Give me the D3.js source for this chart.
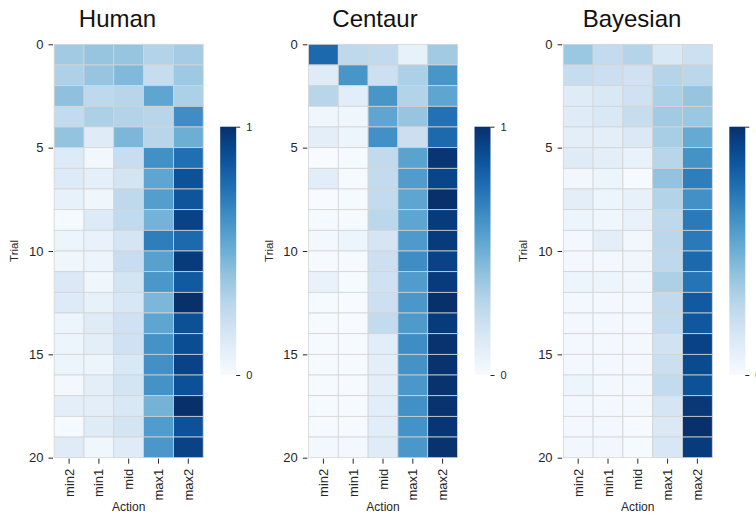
<!DOCTYPE html>
<html>
<head>
<meta charset="utf-8">
<script src="https://cdn.jsdelivr.net/npm/d3@7"></script>
<style>
  body { margin: 0; background: #fff; }
  svg { display: block; font-family: "Liberation Sans", Arial, Helvetica, sans-serif; }
</style>
</head>
<body>
<svg id="chart" width="756" height="515"></svg>
<script>
// data: rows = trials 0..19, columns = actions
const actions = ["min2", "min1", "mid", "max1", "max2"];
const titles = ["Human", "Centaur", "Bayesian"];
const yTicks = [0, 5, 10, 15, 20];
const cbarTicks = [0, 1];

const human = [
  [0.36, 0.39, 0.39, 0.31, 0.35],
  [0.32, 0.39, 0.45, 0.24, 0.37],
  [0.41, 0.27, 0.29, 0.54, 0.33],
  [0.25, 0.33, 0.31, 0.29, 0.64],
  [0.40, 0.12, 0.46, 0.29, 0.50],
  [0.13, 0.03, 0.23, 0.63, 0.76],
  [0.13, 0.09, 0.18, 0.54, 0.87],
  [0.08, 0.04, 0.27, 0.57, 0.86],
  [0.01, 0.13, 0.26, 0.48, 0.93],
  [0.05, 0.07, 0.17, 0.70, 0.78],
  [0.04, 0.05, 0.23, 0.56, 0.96],
  [0.14, 0.04, 0.18, 0.60, 0.84],
  [0.13, 0.08, 0.16, 0.46, 1.00],
  [0.05, 0.12, 0.20, 0.54, 0.88],
  [0.05, 0.10, 0.20, 0.62, 0.89],
  [0.05, 0.05, 0.15, 0.63, 0.93],
  [0.02, 0.10, 0.18, 0.62, 0.88],
  [0.10, 0.10, 0.15, 0.48, 1.00],
  [0.01, 0.12, 0.18, 0.58, 0.87],
  [0.12, 0.04, 0.12, 0.60, 0.93]
];

const centaur = [
  [0.78, 0.27, 0.26, 0.08, 0.36],
  [0.12, 0.61, 0.21, 0.33, 0.61],
  [0.29, 0.11, 0.61, 0.31, 0.54],
  [0.04, 0.04, 0.54, 0.39, 0.75],
  [0.10, 0.05, 0.63, 0.22, 0.78],
  [0.00, 0.01, 0.26, 0.55, 0.98],
  [0.11, 0.01, 0.25, 0.58, 0.92],
  [0.00, 0.01, 0.25, 0.54, 1.00],
  [0.01, 0.01, 0.28, 0.54, 0.96],
  [0.02, 0.05, 0.17, 0.59, 0.96],
  [0.01, 0.01, 0.21, 0.64, 0.93],
  [0.07, 0.01, 0.20, 0.58, 0.96],
  [0.01, 0.00, 0.21, 0.60, 1.00],
  [0.01, 0.00, 0.25, 0.59, 0.96],
  [0.01, 0.01, 0.11, 0.64, 0.99],
  [0.01, 0.01, 0.10, 0.62, 0.99],
  [0.01, 0.01, 0.10, 0.60, 0.99],
  [0.01, 0.01, 0.11, 0.63, 0.99],
  [0.01, 0.01, 0.11, 0.62, 0.98],
  [0.02, 0.02, 0.12, 0.60, 0.99]
];

const bayesian = [
  [0.38, 0.25, 0.30, 0.15, 0.21],
  [0.24, 0.22, 0.20, 0.30, 0.28],
  [0.12, 0.15, 0.20, 0.33, 0.39],
  [0.12, 0.15, 0.24, 0.36, 0.38],
  [0.10, 0.10, 0.14, 0.34, 0.52],
  [0.12, 0.10, 0.07, 0.29, 0.62],
  [0.03, 0.05, 0.01, 0.40, 0.70],
  [0.10, 0.05, 0.08, 0.31, 0.63],
  [0.05, 0.04, 0.07, 0.27, 0.72],
  [0.02, 0.10, 0.03, 0.28, 0.72],
  [0.02, 0.02, 0.04, 0.27, 0.78],
  [0.05, 0.05, 0.04, 0.33, 0.74],
  [0.02, 0.02, 0.02, 0.26, 0.84],
  [0.02, 0.02, 0.02, 0.25, 0.85],
  [0.02, 0.02, 0.02, 0.19, 0.93],
  [0.02, 0.02, 0.02, 0.22, 0.90],
  [0.05, 0.02, 0.02, 0.25, 0.87],
  [0.02, 0.02, 0.02, 0.17, 0.97],
  [0.02, 0.02, 0.01, 0.14, 1.00],
  [0.03, 0.03, 0.01, 0.16, 0.96]
];

const panels = [human, centaur, bayesian];

const svg = d3.select("#chart");
const color = d3.scaleSequential(d3.interpolateBlues).domain([0, 1]);
const textColor = "#262626";

const hmTop = 44.3, hmHeight = 413.4, hmWidth = 149;
const panelLeft = [54.2, 308.5, 563.3];
const titleX = [117.5, 375, 632];
const cbarTop = 126.7, cbarHeight = 248.3, cbarWidth = 16;

// colour gradient used by every colorbar
const grad = svg.append("defs").append("linearGradient")
  .attr("id", "blues").attr("x1", 0).attr("y1", 1).attr("x2", 0).attr("y2", 0);
d3.range(0, 1.0001, 0.05).forEach(t => {
  grad.append("stop").attr("offset", t).attr("stop-color", color(t));
});

panels.forEach((data, p) => {
  const left = panelLeft[p];
  const g = svg.append("g");

  const x = d3.scaleBand().domain(actions).range([left, left + hmWidth]);
  const y = d3.scaleBand().domain(d3.range(data.length)).range([hmTop, hmTop + hmHeight]);
  const yLin = d3.scaleLinear().domain([0, data.length]).range([hmTop, hmTop + hmHeight]);

  // cells
  data.forEach((row, r) => {
    g.selectAll(null)
      .data(row)
      .enter()
      .append("rect")
      .attr("x", (d, c) => x(actions[c]))
      .attr("y", y(r))
      .attr("width", x.bandwidth())
      .attr("height", y.bandwidth())
      .attr("fill", d => color(d))
      .attr("stroke", "#d4d4d4")
      .attr("stroke-width", 0.8);
  });

  // y axis
  const ya = g.append("g")
    .attr("transform", "translate(" + (left - 1.2) + ",0)")
    .call(d3.axisLeft(yLin).tickValues(yTicks).tickSize(4.5).tickPadding(5));
  ya.select(".domain").remove();
  ya.selectAll("line").attr("stroke", textColor);
  ya.selectAll("text").attr("font-size", 13).attr("fill", textColor)
    .attr("font-family", "Liberation Sans, Arial, sans-serif");

  // x axis
  const xa = g.append("g")
    .attr("transform", "translate(0," + (hmTop + hmHeight + 1) + ")")
    .call(d3.axisBottom(x).tickSize(5).tickPadding(5));
  xa.select(".domain").remove();
  xa.selectAll("line").attr("stroke", textColor);
  xa.selectAll("text")
    .attr("font-size", 13).attr("fill", textColor)
    .attr("font-family", "Liberation Sans, Arial, sans-serif")
    .attr("transform", "rotate(-90)")
    .attr("x", -10).attr("y", 0).attr("dy", "0.35em")
    .style("text-anchor", "end");

  // axis labels
  g.append("text")
    .attr("transform", "translate(" + (left - 40) + "," + (hmTop + hmHeight / 2) + ")rotate(-90)")
    .attr("text-anchor", "middle").attr("dominant-baseline", "central")
    .attr("font-size", 11.5).attr("fill", textColor)
    .text("Trial");
  g.append("text")
    .attr("x", left + hmWidth / 2).attr("y", 511)
    .attr("text-anchor", "middle")
    .attr("font-size", 12).attr("fill", textColor)
    .text("Action");

  // title
  g.append("text")
    .attr("x", titleX[p]).attr("y", 27)
    .attr("text-anchor", "middle")
    .attr("font-size", 24).attr("fill", "#111")
    .text(titles[p]);

  // colorbar
  const cx = left + 166;
  g.append("rect")
    .attr("x", cx).attr("y", cbarTop)
    .attr("width", cbarWidth).attr("height", cbarHeight)
    .attr("fill", "url(#blues)");
  const cScale = d3.scaleLinear().domain([0, 1]).range([cbarTop + cbarHeight, cbarTop]);
  const ca = g.append("g")
    .attr("transform", "translate(" + (cx + cbarWidth) + ",0)")
    .call(d3.axisRight(cScale).tickValues(cbarTicks).tickFormat(d3.format("d")).tickSize(4).tickPadding(6));
  ca.select(".domain").remove();
  ca.selectAll("line").attr("stroke", textColor);
  ca.selectAll("text").attr("font-size", 11).attr("fill", textColor)
    .attr("font-family", "Liberation Sans, Arial, sans-serif");
});
</script>
</body>
</html>
